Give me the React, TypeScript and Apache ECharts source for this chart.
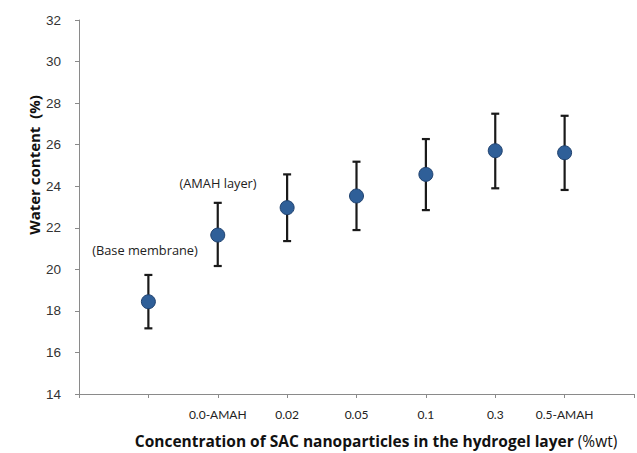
import React, { useEffect, useRef } from "react";
import * as echarts from "echarts";

const categories = ["", "0.0-AMAH", "0.02", "0.05", "0.1", "0.3", "0.5-AMAH"];
const waterContent = [18.44, 21.65, 22.97, 23.53, 24.57, 25.71, 25.61];
const errLow = [17.16, 20.16, 21.36, 21.89, 22.85, 23.9, 23.82];
const errHigh = [19.73, 23.2, 24.57, 25.18, 26.27, 27.49, 27.39];
const yTicks = { min: 14, max: 32, interval: 2 };

export default function App() {
  const ref = useRef<HTMLDivElement>(null);
  useEffect(() => {
    if (!ref.current) return;
    const chart = echarts.init(ref.current, undefined, { renderer: "svg" });
    const points = waterContent.map((v, i) => [i + 1, v]);
    const errData = waterContent.map((_, i) => [i + 1, errLow[i], errHigh[i]]);
    chart.setOption({
      animation: false,
      backgroundColor: "#ffffff",
      grid: { left: 79, right: 0, top: 20, bottom: 59 },
      xAxis: {
        type: "value",
        min: 0,
        max: 8,
        interval: 1,
        splitLine: { show: false },
        axisLine: { show: true, lineStyle: { color: "#8a8a8a", width: 1 } },
        axisTick: { show: true, length: 4, lineStyle: { color: "#8a8a8a" } },
        axisLabel: {
          margin: 14,
          fontFamily: "Lato",
          fontSize: 12,
          color: "#222",
          formatter: (v: number) => categories[v - 1] ?? "",
        },
      },
      yAxis: {
        type: "value",
        min: yTicks.min,
        max: yTicks.max,
        interval: yTicks.interval,
        splitLine: { show: false },
        axisLine: { show: true, lineStyle: { color: "#8a8a8a", width: 1 } },
        axisTick: { show: true, length: 4, lineStyle: { color: "#8a8a8a" } },
        axisLabel: {
          margin: 18,
          fontFamily: "Liberation Sans",
          fontSize: 13.5,
          color: "#333",
        },
      },
      series: [
        {
          type: "custom",
          data: errData,
          z: 2,
          renderItem: (params: any, api: any) => {
            const x = api.value(0);
            const lo = api.coord([x, api.value(1)]);
            const hi = api.coord([x, api.value(2)]);
            const w = 4;
            const style = { stroke: "#1a1a1a", lineWidth: 2.2 };
            return {
              type: "group",
              children: [
                { type: "line", shape: { x1: lo[0], y1: lo[1], x2: hi[0], y2: hi[1] }, style },
                { type: "line", shape: { x1: lo[0] - w, y1: lo[1], x2: lo[0] + w, y2: lo[1] }, style },
                { type: "line", shape: { x1: hi[0] - w, y1: hi[1], x2: hi[0] + w, y2: hi[1] }, style },
              ],
            };
          },
        },
        {
          type: "scatter",
          data: points,
          z: 3,
          symbol: "circle",
          symbolSize: 14,
          itemStyle: { color: "#2f5f98", borderColor: "#1f416e", borderWidth: 1, opacity: 1 },
        },
      ],
      graphic: [
        {
          type: "text",
          x: 34,
          y: 165,
          rotation: Math.PI / 2,
          style: {
            text: "Water content  (%)",
            font: "bold 15px 'Open Sans'",
            fill: "#111",
            align: "center",
            verticalAlign: "middle",
          },
        },
        {
          type: "text",
          x: 376,
          y: 441,
          style: {
            text: "{b|Concentration of SAC nanoparticles in the hydrogel layer }{n|(%wt)}",
            align: "center",
            verticalAlign: "middle",
            rich: {
              b: { font: "bold 15.5px 'Open Sans'", fill: "#111" },
              n: { font: "15.5px 'Open Sans'", fill: "#111" },
            },
          },
        },
        {
          type: "text",
          x: 145,
          y: 250,
          style: {
            text: "(Base membrane)",
            font: "12.8px 'Open Sans'",
            fill: "#222",
            align: "center",
            verticalAlign: "middle",
          },
        },
        {
          type: "text",
          x: 218,
          y: 183,
          style: {
            text: "(AMAH layer)",
            font: "12.8px 'Open Sans'",
            fill: "#222",
            align: "center",
            verticalAlign: "middle",
          },
        },
      ],
    });
    return () => chart.dispose();
  }, []);
  return (
    <div
      ref={ref}
      style={{ position: "fixed", left: 0, top: 0, width: 637, height: 453 }}
    />
  );
}
